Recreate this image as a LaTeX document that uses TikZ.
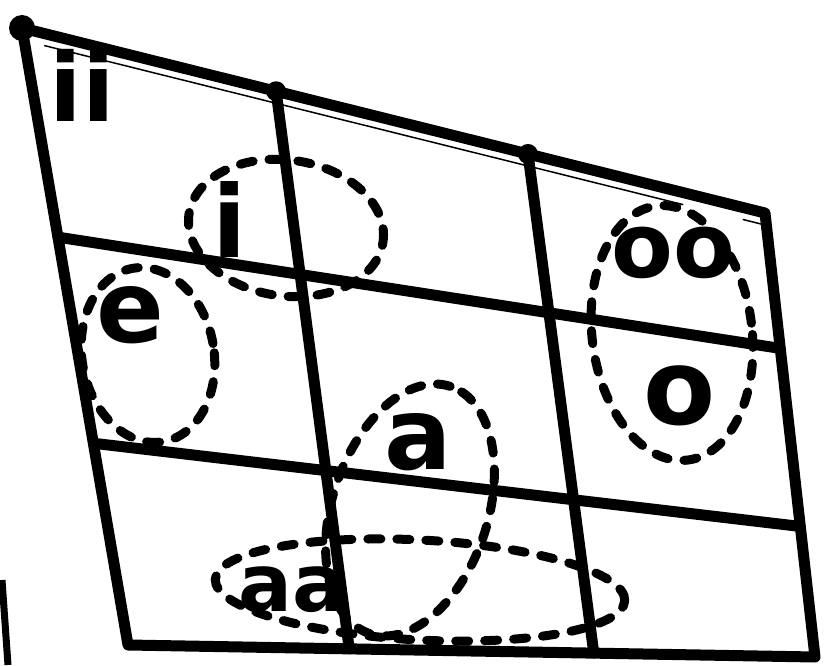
\documentclass[tikz,border=0pt]{standalone}
\usepackage{fontspec}
\setmainfont{DejaVu Sans}
\usepackage{tikz}
\usetikzlibrary{calc}

\begin{document}
\begin{tikzpicture}[x=1pt, y=1pt,
grid/.style={line width=11pt, line cap=round, line join=round},
ring/.style={line width=9pt, line cap=round, dash pattern=on 13pt off 16pt},
vowel/.style={inner sep=0pt, font=\bfseries\fontsize{#1}{#1}\selectfont},
knot/.style={circle, fill, inner sep=0pt, minimum size=#1}
]
\useasboundingbox (0,0) rectangle (830,665);
\coordinate (tl) at (22,637);
\coordinate (tr) at (765,452);
\coordinate (br) at (815,8);
\coordinate (bl) at (128,20);
\coordinate (h1l) at ($(tl)!0.339!(bl)$);
\coordinate (h1r) at ($(tr)!0.305!(br)$);
\coordinate (h2l) at ($(tl)!0.673!(bl)$);
\coordinate (h2r) at ($(tr)!0.706!(br)$);
\coordinate (v1t) at ($(tl)!0.342!(tr)$);
\coordinate (v1b) at ($(bl)!0.322!(br)$);
\coordinate (v2t) at ($(tl)!0.681!(tr)$);
\coordinate (v2b) at ($(bl)!0.678!(br)$);
\draw[grid] (tl) -- (tr) -- (br) -- (bl) -- cycle;
\draw[grid] (h1l) -- (h1r);
\draw[grid] (h2l) -- (h2r);
\draw[grid] (v1t) -- (v1b);
\draw[grid] (v2t) -- (v2b);
\draw[line width=1.5pt] ($(tl)!0.03!(tr)+(0,-12)$) -- ($(tl)!0.89!(tr)+(0,-12)$);
\draw[line width=1.5pt] ($(tl)!0.97!(tr)+(0,-12)$) -- ($(tl)!0.995!(tr)+(0,-12)$);
\draw[line width=7pt] (2,85) -- (8,0);
\node[knot=26pt] (ktl) at (tl) {};
\node[knot=20pt] (kv1) at (v1t) {};
\node[knot=20pt] (kv2) at (v2t) {};
\node[vowel=95] (ii) at (82,580) {ii};
\node[vowel=100] (i) at (230,445) {i};
\node[vowel=100] (e) at (130,350) {e};
\node[vowel=100] (a) at (418,223) {a};
\node[vowel=80] (aa) at (292,75) {aa};
\node[vowel=90] (oo) at (673,412) {oo};
\node[vowel=105] (o) at (680,269) {o};
\draw[ring, rotate around={-8:(286,437)}] (286,437) ellipse [x radius=98, y radius=68];
\draw[ring, rotate around={10:(148,310)}] (148,310) ellipse [x radius=66, y radius=88];
\draw[ring, rotate around={72:(410,155)}] (410,155) ellipse [x radius=130, y radius=78];
\draw[ring, rotate around={-3:(420,75)}] (420,75) ellipse [x radius=205, y radius=50];
\draw[ring, rotate around={7:(672,332)}] (672,332) ellipse [x radius=80, y radius=128];
\end{tikzpicture}
\end{document}
